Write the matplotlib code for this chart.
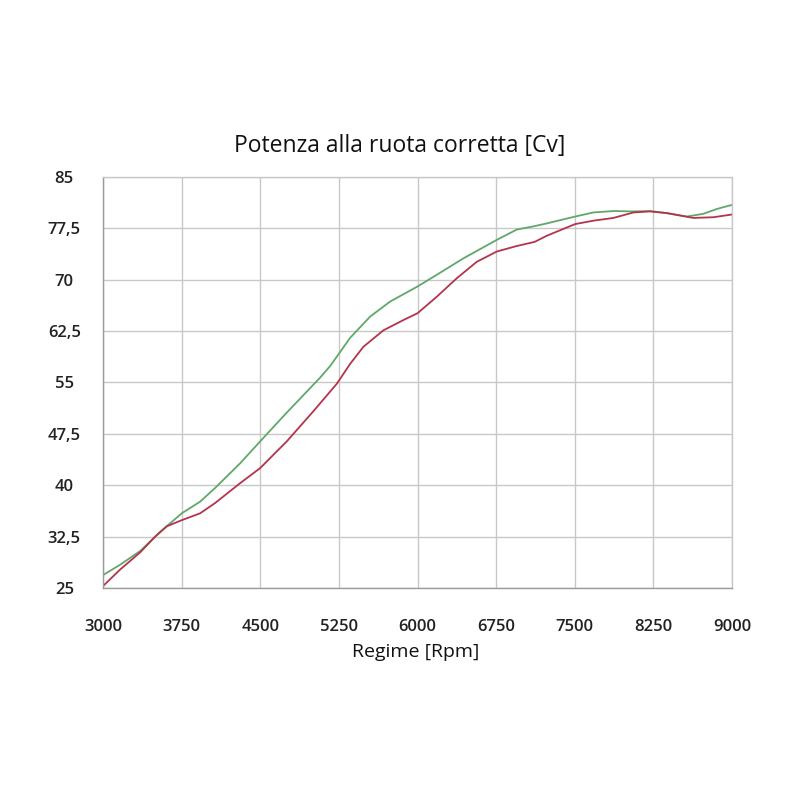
import matplotlib
matplotlib.use('Agg')
import matplotlib.pyplot as plt


rpm_green = [3000, 3162, 3353, 3544, 3750, 3925, 4068, 4307, 4498, 4752, 5070,
             5166, 5245, 5356, 5547, 5738, 6000, 6183, 6437, 6756, 6946, 7116,
             7233, 7503, 7678, 7869, 8060, 8219, 8378, 8569, 8727, 8854, 9000]
cv_green = [26.9, 28.4, 30.4, 33.2, 35.9, 37.6, 39.6, 43.2, 46.4, 50.6, 55.7,
            57.4, 59.1, 61.5, 64.6, 66.8, 69.0, 70.7, 73.1, 75.8, 77.3, 77.8,
            78.2, 79.2, 79.8, 80.0, 79.95, 80.0, 79.7, 79.2, 79.6, 80.3, 80.9]

rpm_red = [3000, 3162, 3353, 3496, 3607, 3750, 3925, 4068, 4307, 4498, 4752,
           5006, 5229, 5356, 5483, 5674, 5865, 6000, 6183, 6374, 6565, 6756,
           6946, 7116, 7233, 7503, 7678, 7869, 8060, 8219, 8378, 8632, 8823,
           9000]
cv_red = [25.3, 27.7, 30.2, 32.5, 34.0, 34.9, 35.9, 37.4, 40.3, 42.5, 46.4,
          50.8, 54.8, 57.7, 60.2, 62.6, 64.1, 65.1, 67.5, 70.2, 72.6, 74.1,
          74.9, 75.5, 76.4, 78.1, 78.6, 79.0, 79.8, 79.95, 79.7, 79.0, 79.1,
          79.5]

x_ticks = [3000, 3750, 4500, 5250, 6000, 6750, 7500, 8250, 9000]
y_ticks = [25, 32.5, 40, 47.5, 55, 62.5, 70, 77.5, 85]
y_labels = ['25', '32,5', '40', '47,5', '55', '62,5', '70', '77,5', '85']


def main():
    fig = plt.figure(figsize=(8, 8), dpi=100)
    ax = fig.add_axes([0.129, 0.265, 0.786, 0.514])

    ax.plot(rpm_green, cv_green, color='#5fa86a', linewidth=1.3,
            solid_joinstyle='round')
    ax.plot(rpm_red, cv_red, color='#b3344c', linewidth=1.3,
            solid_joinstyle='round')

    ax.set_xlim(3000, 9000)
    ax.set_ylim(25, 85)
    ax.set_xticks(x_ticks)
    ax.set_xticklabels([str(v) for v in x_ticks])
    ax.set_yticks(y_ticks)
    ax.set_yticklabels(y_labels)

    ax.grid(True, color='#c8c8c8', linewidth=1)
    ax.set_axisbelow(True)
    for s in ax.spines.values():
        s.set_color('#c8c8c8')
        s.set_linewidth(1)
    ax.spines['left'].set_color('#9a9a9a')
    ax.spines['bottom'].set_color('#9a9a9a')

    ax.tick_params(axis='both', length=0, labelsize=12, labelcolor='#222222')
    ax.tick_params(axis='x', pad=22)
    ax.tick_params(axis='y', pad=28)
    for lbl in ax.get_yticklabels() + ax.get_xticklabels():
        lbl.set_fontfamily('Open Sans')
        lbl.set_fontweight('semibold')
    for lbl in ax.get_yticklabels():
        lbl.set_horizontalalignment('center')

    fig.text(0.5, 0.818, 'Potenza alla ruota corretta [Cv]', ha='center',
             va='center', fontsize=16.5, family='Open Sans', color='#111111')
    fig.text(0.52, 0.185, 'Regime [Rpm]', ha='center', va='center',
             fontsize=14, family='Open Sans', color='#111111')

    fig.savefig('out.png', dpi=100, facecolor='white')


if __name__ == '__main__':
    main()
